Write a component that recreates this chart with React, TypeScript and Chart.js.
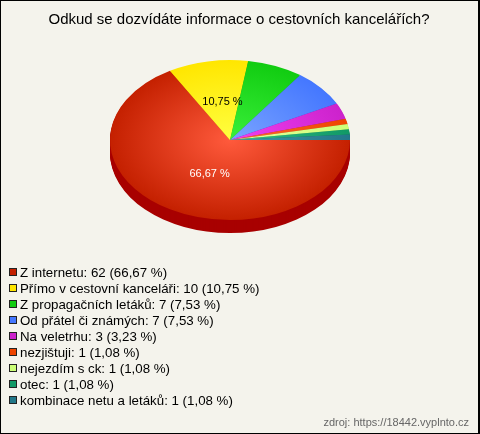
import React, { useEffect, useRef } from "react";
import { Chart, registerables } from "chart.js";

Chart.register(...registerables);

const TITLE = "Odkud se dozvídáte informace o cestovních kancelářích?";
const SOURCE = "zdroj: https://18442.vyplnto.cz";
const categories = [
  "Z internetu",
  "Přímo v cestovní kanceláři",
  "Z propagačních letáků",
  "Od přátel či známých",
  "Na veletrhu",
  "nezjištuji",
  "nejezdím s ck",
  "otec",
  "kombinace netu a letáků",
];
const counts = [62, 10, 7, 7, 3, 1, 1, 1, 1];
const percentLabels = ["66,67", "10,75", "7,53", "7,53", "3,23", "1,08", "1,08", "1,08", "1,08"];
const baseColors = ["#c42000", "#ffe600", "#11cc11", "#4477ff", "#cc22cc", "#ee4400", "#ccff77", "#119966", "#227788"];
const lightColors = ["#ff5a3c", "#ffff40", "#3af03a", "#7aa4ff", "#f040f0", "#ff6a30", "#e6ffa0", "#33bb88", "#4499aa"];
const sideColors = ["#a80000", "#c8b000", "#0a9a0a", "#2a55cc", "#991199", "#b83000", "#99cc55", "#0b7050", "#155566"];

const CX = 230;
const CY = 140;
const RX = 120;
const RY = 80;
const DEPTH = 13;

export default function App() {
  const ref = useRef<HTMLCanvasElement | null>(null);
  useEffect(() => {
    document.body.style.margin = "0";
    const canvas = ref.current!;
    const total = counts.reduce((a, b) => a + b, 0);

    const bgPlugin = {
      id: "bg",
      beforeDraw(chart: any) {
        const ctx = chart.ctx;
        ctx.save();
        ctx.fillStyle = "#f4f3ec";
        ctx.fillRect(0, 0, chart.width, chart.height);
        ctx.restore();
      },
    };

    const ellipsePlugin = {
      id: "ellipse",
      beforeDatasetsDraw(chart: any) {
        const ctx = chart.ctx;
        const meta = chart.getDatasetMeta(0);
        for (let d = DEPTH; d >= 1; d--) {
          ctx.save();
          ctx.translate(CX, CY + d);
          ctx.scale(1, RY / RX);
          meta.data.forEach((arc: any, i: number) => {
            ctx.beginPath();
            ctx.moveTo(0, 0);
            ctx.arc(0, 0, arc.outerRadius, arc.startAngle, arc.endAngle);
            ctx.closePath();
            ctx.fillStyle = sideColors[i];
            ctx.fill();
          });
          ctx.restore();
        }
        const a0 = meta.data[0];
        ctx.save();
        ctx.translate(CX, CY);
        ctx.scale(1, RY / RX);
        ctx.translate(-a0.x, -a0.y);
        return true;
      },
      afterDatasetsDraw(chart: any) {
        const ctx = chart.ctx;
        ctx.restore();
        const meta = chart.getDatasetMeta(0);
        ctx.save();
        ctx.font = "11px 'Liberation Sans', Arial, sans-serif";
        ctx.textAlign = "center";
        ctx.textBaseline = "middle";
        meta.data.forEach((arc: any, i: number) => {
          if (counts[i] / total < 0.1) return;
          const mid = (arc.startAngle + arc.endAngle) / 2;
          const x = CX + Math.cos(mid) * RX * 0.34;
          const y = CY + Math.sin(mid) * RY * 0.49;
          ctx.fillStyle = i === 0 ? "#ffffff" : "#000000";
          ctx.fillText(percentLabels[i] + " %", x, y);
        });
        ctx.restore();

        ctx.save();
        ctx.fillStyle = "#000000";
        ctx.font = "15px 'Liberation Sans', Arial, sans-serif";
        ctx.textAlign = "center";
        ctx.textBaseline = "middle";
        ctx.fillText(TITLE, 239, 20);

        ctx.font = "13.3px 'Liberation Sans', Arial, sans-serif";
        ctx.textAlign = "left";
        categories.forEach((c, i) => {
          const y = 272 + i * 16;
          ctx.fillStyle = "#222222";
          ctx.fillRect(9, y - 4, 8, 8);
          ctx.fillStyle = baseColors[i];
          ctx.fillRect(10, y - 3, 6, 6);
          ctx.fillStyle = "#000000";
          ctx.fillText(`${c}: ${counts[i]} (${percentLabels[i]} %)`, 20, y + 1);
        });

        ctx.fillStyle = "#666666";
        ctx.font = "11px 'Liberation Sans', Arial, sans-serif";
        ctx.textAlign = "right";
        ctx.fillText(SOURCE, 469, 423);

        ctx.fillStyle = "#000000";
        ctx.fillRect(0, 0, 480, 1);
        ctx.fillRect(0, 0, 1, 434);
        ctx.fillRect(0, 433, 480, 1);
        ctx.fillRect(478, 0, 2, 434);
        ctx.restore();
      },
    };

    const chart = new Chart(canvas, {
      type: "pie",
      data: {
        labels: categories,
        datasets: [
          {
            data: counts,
            borderWidth: 0,
            backgroundColor: (c: any) => {
              const ch = c.chart;
              const area = ch.chartArea;
              if (!area) return baseColors[c.dataIndex];
              const x = (area.left + area.right) / 2;
              const y = (area.top + area.bottom) / 2;
              const r = Math.min(area.right - area.left, area.bottom - area.top) / 2;
              const g = ch.ctx.createRadialGradient(x, y, 0, x, y, r);
              g.addColorStop(0, lightColors[c.dataIndex]);
              g.addColorStop(1, baseColors[c.dataIndex]);
              return g;
            },
          },
        ],
      },
      options: {
        responsive: false,
        animation: false,
        rotation: 90,
        layout: { padding: { left: 110, right: 130, top: 20, bottom: 174 } },
        plugins: { legend: { display: false }, tooltip: { enabled: false }, title: { display: false } },
      },
      plugins: [bgPlugin, ellipsePlugin],
    });
    return () => chart.destroy();
  }, []);
  return <canvas ref={ref} width={480} height={434} style={{ display: "block" }} />;
}
